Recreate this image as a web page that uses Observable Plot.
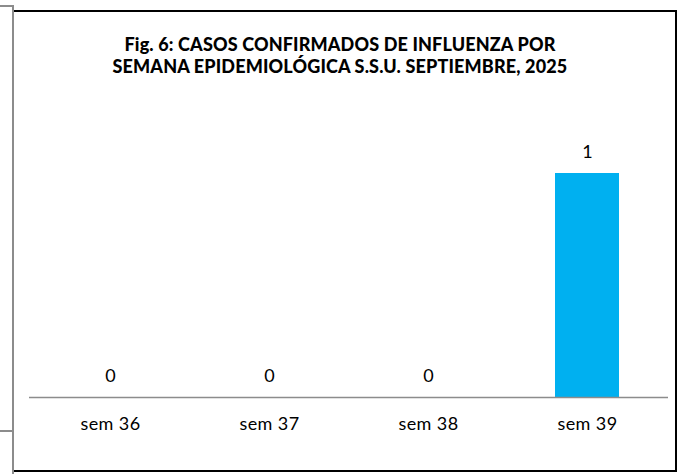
<!DOCTYPE html>
<html>
<head>
<meta charset="utf-8">
<script src="https://cdn.jsdelivr.net/npm/d3@7"></script>
<script src="https://cdn.jsdelivr.net/npm/@observablehq/plot@0.6"></script>
<style>
  html, body { margin: 0; padding: 0; background: #fff; }
  #wrap { position: relative; width: 683px; height: 474px; background: #fff; overflow: hidden; font-family: Lato, "Open Sans", sans-serif; }
  .ln { position: absolute; }
  #title { position: absolute; left: 0; top: 33px; width: 680px; text-align: center; font-weight: 900; font-size: 18px; line-height: 22px; color: #000; letter-spacing: 0.15px; }
  #chart { position: absolute; left: 0; top: 0; }
  #chart svg g[aria-label="x-axis tick label"] text { letter-spacing: 0.4px; }
</style>
</head>
<body>
<div id="wrap">
  <div id="chart"></div>
  <div class="ln" style="left:14px;top:10px;width:663px;height:2px;background:#000"></div>
  <div class="ln" style="left:675px;top:10px;width:2px;height:462px;background:#000"></div>
  <div class="ln" style="left:14px;top:470px;width:663px;height:2px;background:#000"></div>
  <div class="ln" style="left:12px;top:5px;width:2px;height:469px;background:#8c8c8c"></div>
  <div class="ln" style="left:0px;top:5px;width:14px;height:2px;background:#8c8c8c"></div>
  <div class="ln" style="left:0px;top:430px;width:13px;height:1.5px;background:#8c8c8c"></div>
  <div id="title">Fig. 6: CASOS CONFIRMADOS DE INFLUENZA POR<br>SEMANA EPIDEMIOLÓGICA S.S.U. SEPTIEMBRE, 2025</div>
</div>
<script>
const semanas = ["sem 36", "sem 37", "sem 38", "sem 39"];
const casos = [0, 0, 0, 1];

const data = semanas.map((s, i) => ({semana: s, casos: casos[i]}));

const chart = Plot.plot({
  width: 683,
  height: 474,
  marginLeft: 29,
  marginRight: 15,
  marginTop: 173,
  marginBottom: 77,
  style: {background: "transparent", fontFamily: "Lato, 'Open Sans', sans-serif", color: "#000"},
  x: {domain: semanas, paddingInner: 0.6, paddingOuter: 0.3, label: null},
  y: {domain: [0, 1], axis: null},
  marks: [
    Plot.barY(data, {x: "semana", y: "casos", fill: "#00B0F0"}),
    Plot.ruleY([0], {stroke: "#8c8c8c", strokeWidth: 1.5}),
    Plot.text(data, {x: "semana", y: "casos", text: d => String(d.casos), dy: -21, fontSize: 18, fill: "#000"}),
    Plot.axisX({tickSize: 0, tickPadding: 20, fontSize: 18, label: null, fill: "#000"})
  ]
});
document.getElementById("chart").appendChild(chart);
</script>
</body>
</html>
